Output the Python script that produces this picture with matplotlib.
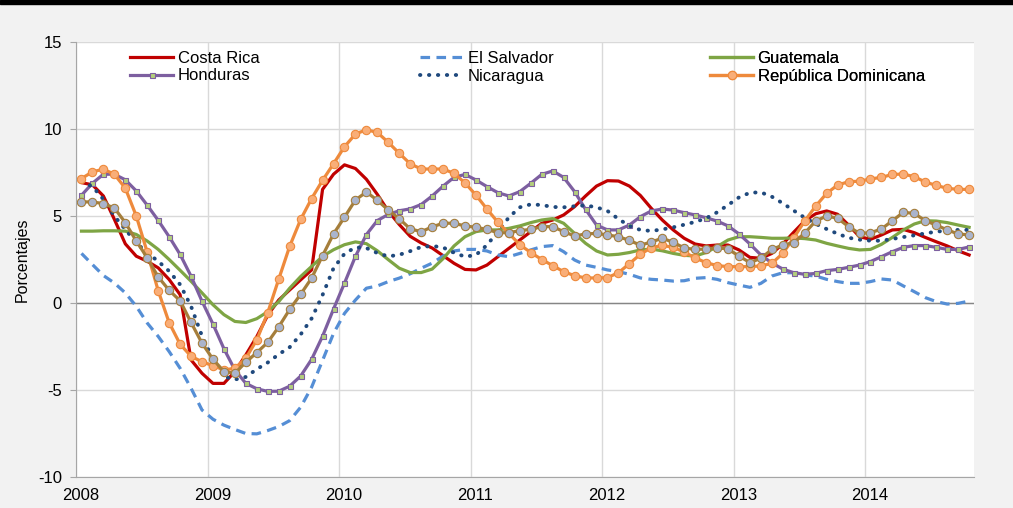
import matplotlib
matplotlib.use("Agg")
import matplotlib.pyplot as plt
from matplotlib.patches import Rectangle
from matplotlib.transforms import ScaledTranslation

plt.rcParams['font.family'] = ['Liberation Sans', 'DejaVu Sans']
plt.rcParams['axes.unicode_minus'] = False

# series mensuales, enero 2008 - octubre 2014 (82 meses)
n_meses = 82
fechas = [2008 + (i + 0.5) / 12 for i in range(n_meses)]

costa_rica = [6.92, 6.79, 6.15, 4.81, 3.4, 2.69, 2.4, 2.02, 1.35, 0.48,
              -3.27, -4.04, -4.62, -4.62, -3.94, -2.98, -1.93, -0.7, 0.17, 0.75,
              1.33, 1.9, 6.53, 7.4, 7.94, 7.73, 7.11, 6.24, 5.28, 4.51,
              3.83, 3.45, 3.16, 2.72, 2.28, 1.93, 1.9, 2.18, 2.66, 3.14,
              3.62, 4.1, 4.58, 4.77, 5.06, 5.54, 6.15, 6.72, 7.03, 7.01,
              6.72, 6.18, 5.44, 4.77, 4.2, 3.72, 3.39, 3.28, 3.33, 3.33,
              3.05, 2.62, 2.57, 2.85, 3.39, 4.07, 4.72, 5.13, 5.29, 5.1,
              4.48, 3.81, 3.66, 3.91, 4.2, 4.23, 4.04, 3.77, 3.52, 3.28,
              3.0, 2.76]

el_salvador = [2.85, 2.21, 1.58, 1.15, 0.58, -0.19, -1.15, -1.92, -2.79, -3.75,
               -4.9, -6.15, -6.68, -7.02, -7.27, -7.5, -7.52, -7.33, -7.1, -6.76,
               -5.99, -4.84, -3.3, -1.75, -0.6, 0.17, 0.85, 0.98, 1.23, 1.43,
               1.68, 2.0, 2.29, 2.7, 2.99, 3.08, 3.08, 2.99, 2.76, 2.66,
               2.85, 3.05, 3.24, 3.3, 2.95, 2.47, 2.18, 2.05, 1.9, 1.8,
               1.65, 1.44, 1.36, 1.32, 1.26, 1.28, 1.42, 1.46, 1.36, 1.17,
               1.03, 0.9, 1.13, 1.55, 1.74, 1.74, 1.61, 1.55, 1.36, 1.23,
               1.13, 1.13, 1.23, 1.38, 1.32, 0.98, 0.65, 0.31, 0.08, -0.06,
               -0.02, 0.11]

guatemala = [4.13, 4.13, 4.15, 4.15, 4.13, 3.94, 3.56, 3.08, 2.5, 1.88,
             1.25, 0.58, -0.1, -0.67, -1.06, -1.12, -0.9, -0.5, 0.08, 0.85,
             1.52, 2.1, 2.68, 3.06, 3.35, 3.51, 3.41, 3.0, 2.49, 2.0,
             1.75, 1.75, 1.95, 2.55, 3.28, 3.81, 4.1, 4.2, 4.2, 4.29,
             4.43, 4.62, 4.77, 4.85, 4.58, 4.0, 3.43, 2.99, 2.76, 2.8,
             2.9, 3.05, 3.1, 3.0, 2.85, 2.74, 2.7, 2.9, 3.24, 3.62,
             3.81, 3.81, 3.77, 3.72, 3.72, 3.74, 3.7, 3.62, 3.43, 3.28,
             3.14, 3.05, 3.08, 3.37, 3.77, 4.2, 4.54, 4.73, 4.71, 4.62,
             4.48, 4.35]

honduras = [6.19, 6.88, 7.4, 7.4, 7.08, 6.44, 5.62, 4.75, 3.81, 2.79,
            1.54, 0.1, -1.21, -2.63, -3.85, -4.62, -4.93, -5.08, -5.07, -4.78,
            -4.2, -3.24, -1.91, -0.35, 1.14, 2.68, 3.93, 4.74, 5.09, 5.3,
            5.41, 5.66, 6.15, 6.72, 7.22, 7.39, 7.07, 6.69, 6.34, 6.15,
            6.4, 6.88, 7.39, 7.59, 7.22, 6.4, 5.38, 4.48, 4.2, 4.2,
            4.48, 4.96, 5.29, 5.4, 5.34, 5.19, 5.06, 4.9, 4.71, 4.43,
            3.97, 3.39, 2.76, 2.3, 1.95, 1.74, 1.65, 1.7, 1.86, 1.93,
            2.05, 2.18, 2.38, 2.66, 2.95, 3.2, 3.3, 3.3, 3.2, 3.08,
            3.08, 3.22]

nicaragua = [6.96, 6.7, 5.96, 5.0, 4.23, 3.46, 2.88, 2.4, 1.83, 1.06,
             -0.19, -1.9, -3.25, -4.23, -4.4, -4.25, -3.8, -3.42, -2.95, -2.54,
             -1.81, -0.89, 0.46, 2.0, 2.83, 3.2, 3.16, 2.87, 2.68, 2.77,
             2.98, 3.22, 3.28, 3.19, 2.89, 2.66, 2.76, 3.33, 4.1, 4.92,
             5.5, 5.67, 5.63, 5.52, 5.5, 5.56, 5.61, 5.5, 5.29, 4.83,
             4.43, 4.2, 4.14, 4.23, 4.35, 4.5, 4.66, 4.87, 5.21, 5.63,
             6.07, 6.34, 6.36, 6.11, 5.73, 5.31, 4.9, 4.55, 4.25, 3.98,
             3.75, 3.64, 3.58, 3.58, 3.68, 3.79, 3.89, 4.0, 4.1, 4.16,
             4.2, 4.2]

rep_dominicana = [7.15, 7.54, 7.69, 7.4, 6.6, 5.0, 2.92, 0.71, -1.13, -2.37,
                  -3.06, -3.38, -3.6, -3.85, -3.75, -3.17, -2.12, -0.55, 1.37, 3.26,
                  4.8, 6.0, 7.05, 8.0, 8.98, 9.71, 9.96, 9.8, 9.23, 8.6,
                  8.0, 7.7, 7.7, 7.7, 7.45, 6.9, 6.2, 5.4, 4.64, 4.0,
                  3.35, 2.9, 2.5, 2.15, 1.8, 1.57, 1.44, 1.44, 1.46, 1.74,
                  2.26, 2.8, 3.18, 3.31, 3.2, 2.93, 2.59, 2.32, 2.15, 2.09,
                  2.09, 2.09, 2.13, 2.28, 2.85, 3.75, 4.71, 5.57, 6.3, 6.78,
                  6.97, 7.0, 7.13, 7.22, 7.39, 7.41, 7.26, 6.95, 6.76, 6.59,
                  6.53, 6.53]

# serie sin rotulo en la leyenda
regional = [5.81, 5.81, 5.71, 5.46, 4.62, 3.56, 2.6, 1.5, 0.73, 0.13,
            -1.12, -2.31, -3.23, -3.94, -4.04, -3.4, -2.85, -2.26, -1.37, -0.37,
            0.5, 1.43, 2.72, 3.97, 4.93, 5.92, 6.38, 5.9, 5.34, 4.84,
            4.26, 4.1, 4.37, 4.59, 4.58, 4.43, 4.35, 4.23, 4.04, 4.04,
            4.16, 4.23, 4.39, 4.39, 4.1, 3.85, 3.97, 4.0, 3.91, 3.81,
            3.6, 3.32, 3.51, 3.72, 3.49, 3.16, 3.08, 3.1, 3.18, 3.1,
            2.7, 2.32, 2.57, 3.08, 3.33, 3.47, 4.02, 4.71, 5.0, 4.87,
            4.39, 4.0, 4.04, 4.25, 4.73, 5.21, 5.15, 4.73, 4.48, 4.2,
            3.97, 3.91]

anios = [2008, 2009, 2010, 2011, 2012, 2013, 2014]
y_ticks = [-10, -5, 0, 5, 10, 15]

fig = plt.figure(figsize=(10.13, 5.08), dpi=100, facecolor='#F2F2F2')
ax = fig.add_axes([76 / 1013, 1 - 477 / 508, 898 / 1013, 435 / 508])
ax.set_facecolor('white')

lw = 2.3
l_cr, = ax.plot(fechas, costa_rica, color='#C00000', lw=lw, label='Costa Rica')
l_es, = ax.plot(fechas, el_salvador, color='#558ED5', lw=lw, ls=(0, (3, 2)),
                label='El Salvador')
l_gu, = ax.plot(fechas, guatemala, color='#7EA544', lw=lw, label='Guatemala')
l_ho, = ax.plot(fechas, honduras, color='#7D5FA0', lw=lw, marker='s', ms=3.6,
                mfc='#B3CF7C', mec='#7D5FA0', mew=0.8, label='Honduras')
l_ni, = ax.plot(fechas, nicaragua, color='#1F497D', lw=2.8, ls=(0, (0.1, 2.2)),
                dash_capstyle='round', label='Nicaragua')
l_rd, = ax.plot(fechas, rep_dominicana, color='#EE8A3C', lw=lw, marker='o', ms=6,
                mfc='#F9AE78', mec='#EE8A3C', mew=0.8,
                label='República Dominicana')
ax.plot(fechas, regional, color='#A57E3B', lw=lw, marker='o', ms=6,
        mfc='#AAB4CC', mec='#A57E3B', mew=0.8, label='_nolegend_')

ax.axhline(0, color='#868686', lw=1, zorder=1)

ax.set_xlim(2008, 2008 + 898 / 131.5)
ax.set_ylim(-10, 15)
ax.set_xticks(anios)
ax.set_xticklabels([str(a) for a in anios])
ax.set_yticks(y_ticks)
ax.grid(True, color='#D9D9D9', lw=1)
ax.set_axisbelow(True)

for s in ['top', 'right']:
    ax.spines[s].set_visible(False)
ax.spines['left'].set_color('#A6A6A6')
ax.spines['bottom'].set_color('#A6A6A6')
ax.tick_params(axis='x', length=0, pad=8, labelsize=12)
ax.tick_params(axis='y', length=4, color='#A6A6A6', pad=6, labelsize=12)
for lab in ax.get_xticklabels():
    lab.set_transform(lab.get_transform() + ScaledTranslation(0.05, 0, fig.dpi_scale_trans))

ax.set_ylabel('Porcentajes', fontsize=11.5)
ax.yaxis.set_label_coords(-0.051, 0.5)

# leyenda en tres columnas
grupos = [([l_cr, l_ho], 130), ([l_es, l_ni], 420), ([l_gu, l_rd], 710)]
for handles, x0 in grupos:
    leg = ax.legend(handles=handles, loc='upper left',
                    bbox_to_anchor=((x0 - 76) / 898, (477 - 51) / 435),
                    frameon=False, fontsize=12, handlelength=2.6,
                    handletextpad=0.25, labelspacing=0.15, borderpad=0,
                    borderaxespad=0, numpoints=1)
    ax.add_artist(leg)

fig.add_artist(Rectangle((0, 1 - 4 / 508), 1, 4 / 508, transform=fig.transFigure,
                         color='black'))

fig.savefig('out.png', dpi=100, facecolor=fig.get_facecolor())
